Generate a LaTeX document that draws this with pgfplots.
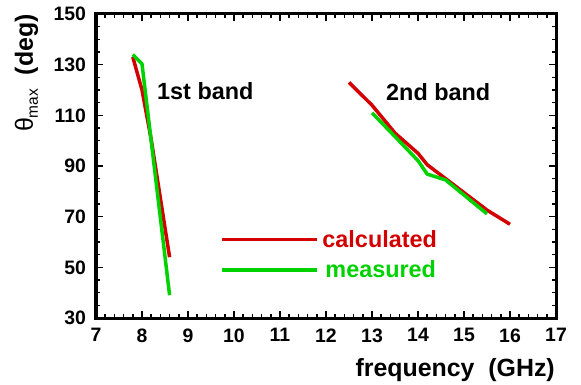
\documentclass[border=0pt]{standalone}
\usepackage{pgfplots}
\pgfplotsset{compat=1.18}
\usepackage{fontspec}
\setmainfont{Liberation Sans}
\definecolor{cred}{RGB}{210,0,0}
\definecolor{cgreen}{RGB}{0,210,0}
\begin{document}
\begin{tikzpicture}
\path[use as bounding box] (-96bp,-67bp) rectangle (485bp,318bp);
\begin{axis}[
 at={(0bp,0bp)}, anchor=south west,
 scale only axis, width=460bp, height=304bp,
 xmin=7, xmax=17, ymin=30, ymax=150,
 xtick={7,...,17}, ytick={30,50,...,150},
 minor x tick num=4, minor y tick num=3,
 tick align=inside,
 major tick length=7bp, minor tick length=4bp,
 every tick/.style={black, line width=1.5bp},
 axis line style={line width=3bp},
 /pgf/number format/assume math mode=true,
 ticklabel style={font=\fontsize{19.5}{22}\selectfont\bfseries},
 xticklabel style={yshift=-7bp},
 yticklabel style={xshift=-6.5bp},
 clip=false,
 legend style={draw=none, fill=none, inner sep=0pt,
   at={(axis cs:9.69,55)}, anchor=west,
   font=\fontsize{23.5}{26}\selectfont\bfseries,
   row sep=10bp, column sep=3bp,
   nodes={inner sep=1bp}},
 legend cell align=left,
 legend image code/.code={\draw[#1] (0bp,0bp) -- (95bp,0bp);},
]
\addplot[cred, line width=3.5bp, line join=round] coordinates {
 (7.8,133) (8.0,120) (8.2,100.5) (8.6,54)};
\addlegendentry{\textcolor{cred}{calculated}}
\addplot[cgreen, line width=3.5bp, line join=round] coordinates {
 (7.8,134) (8.0,130.3) (8.6,39)};
\addlegendentry{\hspace{3bp}\textcolor{cgreen}{measured}}
\addplot[cred, line width=3.5bp, line join=round, forget plot] coordinates {
 (12.5,123) (13.0,114) (13.5,103) (14.0,95) (14.2,90.5) (14.6,85) (15.5,72.6) (16.0,67)};
\addplot[cgreen, line width=3.5bp, line join=round, forget plot] coordinates {
 (13.0,111) (13.5,101.6) (14.0,92.1) (14.2,86.8) (14.6,84.5) (15.5,71.1)};
\end{axis}
\node[anchor=base west, font=\fontsize{23.5}{26}\selectfont\bfseries, inner sep=0pt] at (61bp,218bp) {1st band};
\node[anchor=base west, font=\fontsize{23.5}{26}\selectfont\bfseries, inner sep=0pt] at (290bp,217.3bp) {2nd band};
\node[anchor=base east, font=\fontsize{25}{27}\selectfont\bfseries, inner sep=0pt] at (459bp,-58bp) {frequency\ \ (GHz)};
\node[rotate=90, anchor=base, font=\fontsize{25}{27}\selectfont, inner sep=0pt] at (-63bp,245bp) {θ\raisebox{-5bp}{\fontsize{15.5}{16}\selectfont max}\ \ \textbf{(deg)}};
\end{tikzpicture}
\end{document}
